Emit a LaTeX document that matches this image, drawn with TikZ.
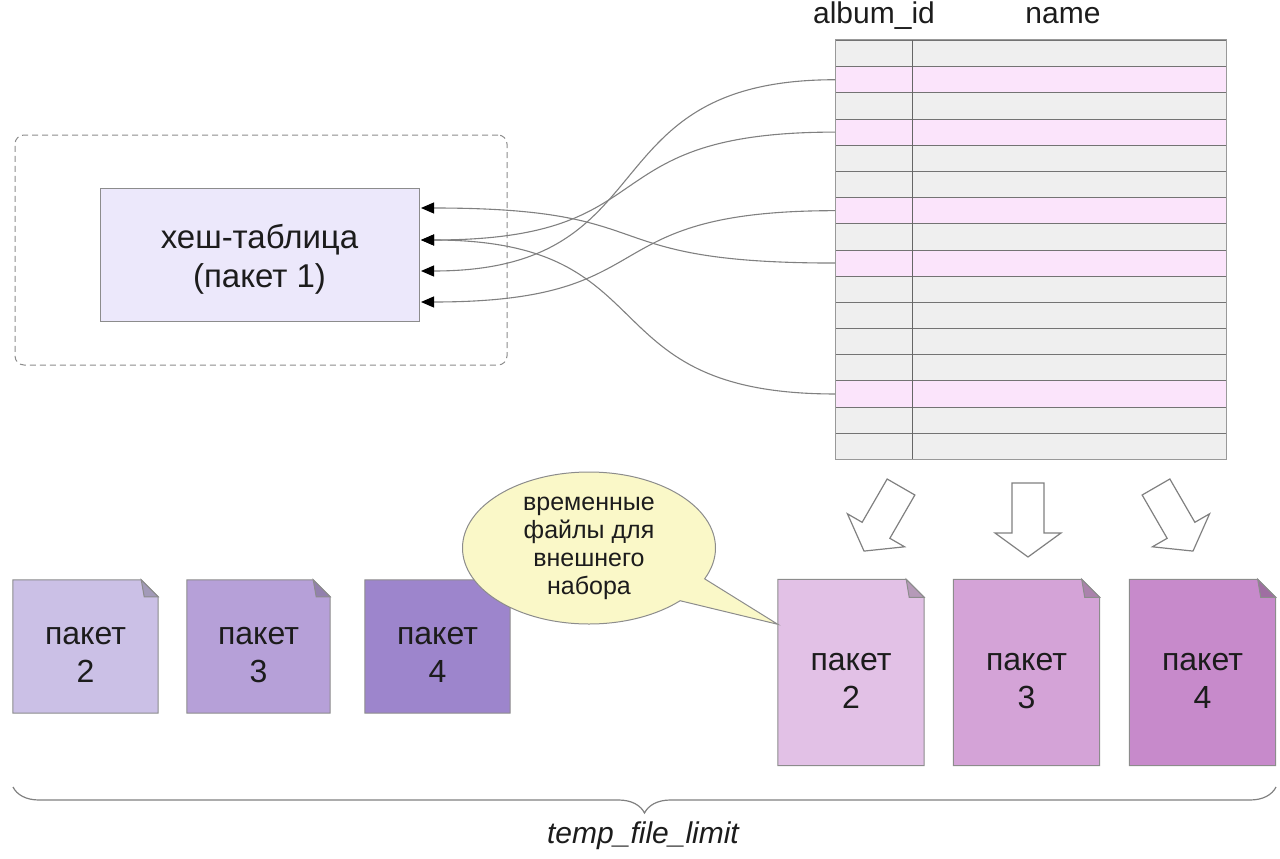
\documentclass[tikz,border=0pt]{standalone}
\usepackage{fontspec}
\setmainfont{Liberation Sans}
\usetikzlibrary{shapes,shapes.misc,shapes.callouts,arrows.meta,decorations.pathreplacing,calc,backgrounds}

\definecolor{rowg}{HTML}{EFEFEF}
\definecolor{rowp}{HTML}{FBE4FB}
\definecolor{hashfill}{HTML}{ECE8FB}
\definecolor{notefill}{HTML}{FAF8C8}
\definecolor{lp2}{HTML}{CBC0E6}
\definecolor{lp3}{HTML}{B6A0D8}
\definecolor{lp4}{HTML}{9D85CC}
\definecolor{rp2}{HTML}{E2C1E6}
\definecolor{rp3}{HTML}{D4A3D7}
\definecolor{rp4}{HTML}{C78ACB}
\definecolor{ink}{HTML}{1C1C1C}

\begin{document}
\begin{tikzpicture}[x=1pt,y=-1pt,text=ink]
   \useasboundingbox (0,0) rectangle (1280,859);
   \tikzstyle{row}=[rectangle, anchor=north west, minimum width=391, minimum height=26.1875, inner sep=0, draw=black!55, line width=0.9]
   \tikzstyle{link}=[draw=black!50, line width=1.1, -{Triangle[length=13pt,width=11pt,color=black]}]
   \tikzstyle{hashbox}=[rectangle, minimum width=319, minimum height=133, fill=hashfill, draw=black!45, line width=1, align=center, text height=72pt, text depth=7pt, font=\fontsize{33}{39}\selectfont]
   \tikzstyle{group}=[rectangle, rounded corners=9, dash pattern=on 6pt off 4pt, draw=black!45, line width=1, minimum width=492, minimum height=230]
   \tikzstyle{doc}=[rectangle, inner sep=0, align=center, text height=74pt, text depth=2pt, font=\fontsize{32}{38}\selectfont]
   \tikzstyle{docedge}=[draw=black!45, line width=1]
   \tikzstyle{hollow}=[draw=black!50, fill=white, line width=1.2]
   \tikzstyle{brace}=[decorate, decoration={brace, mirror, amplitude=26pt}, draw=black!50, line width=1.2]
   % table
   \node[font=\fontsize{30}{34}\selectfont] (albumid) at (874,16) {album\_id};
   \node[font=\fontsize{30}{34}\selectfont] (namecol) at (1063,16) {name};
   \foreach \c [count=\i from 0] in {g,p,g,p,g,g,p,g,p,g,g,g,g,p,g,g}
       \node[row, fill=row\c] (row\i) at (835,{40+\i*26.1875}) {};
   \draw[black!60, line width=1] ($(row0.north west)+(77,0)$) -- ($(row15.south west)+(77,0)$);
   \draw[black!40, line width=1] (row0.north west) rectangle (row15.south east);
   % hash table
   \node[group] (batch1) at (261,250) {};
   \node[hashbox] (hash) at (259.5,254.5) {хеш-таблица\\(пакет 1)};
   \foreach \t/\y in {1/208,2/240,3/271,4/302}
       \coordinate (in\t) at (421,\y);
   \foreach \r/\t in {8/1,3/2,13/2,1/3,6/4}
       \draw[link] (row\r.west) .. controls +(-250,0) and +(250,0) .. (in\t);
   % batches
   \foreach \n/\x/\y/\w/\h/\f/\c/\k in {l2/85.5/646.5/145/133/17/lp2/2, l3/258.5/646.5/143/133/17/lp3/3, l4/437.5/646.5/145/133/17/lp4/4,
       r2/851/672.5/146/186/18/rp2/2, r3/1026.5/672.5/146/186/18/rp3/3, r4/1202.5/672.5/146/186/18/rp4/4} {
       \node[doc, minimum width=\w, minimum height=\h] (\n) at (\x,\y) {пакет\\\k};
       \begin{scope}[on background layer]
           \filldraw[docedge, fill=\c] (\n.north west) -- ([xshift={-\f}]\n.north east) -- ([yshift={-\f}]\n.north east) -- (\n.south east) -- (\n.south west) -- cycle;
           \filldraw[docedge, fill=\c!80!black] ([xshift={-\f}]\n.north east) -- ([xshift={-\f+3},yshift={-\f}]\n.north east) -- ([yshift={-\f}]\n.north east) -- cycle;
       \end{scope}
   }
   \foreach \x/\y/\a in {901/487/-30, 1028/483/0, 1156/487/30}
       \draw[hollow, shift={(\x,\y)}, rotate=\a] (-16,0) -- (-16,50) -- (-33,50) -- (0,74) -- (33,50) -- (16,50) -- (16,0) -- cycle;
   \node[ellipse callout, draw=black!45, line width=1, fill=notefill, minimum width=253, minimum height=152, inner sep=0, align=center,
       font=\fontsize{25}{28}\selectfont, callout absolute pointer={($(r2.north west)+(0,45)$)}, callout pointer arc=20] (note) at (589,548) {временные\\файлы для\\внешнего\\набора};
   % limit
   \coordinate (bl) at (13,787);
   \coordinate (br) at (1276,787);
   \draw[brace] (bl) -- (br);
   \node[font=\fontsize{30}{34}\selectfont\itshape] (limit) at (643,836) {temp\_file\_limit};
\end{tikzpicture}
\end{document}
